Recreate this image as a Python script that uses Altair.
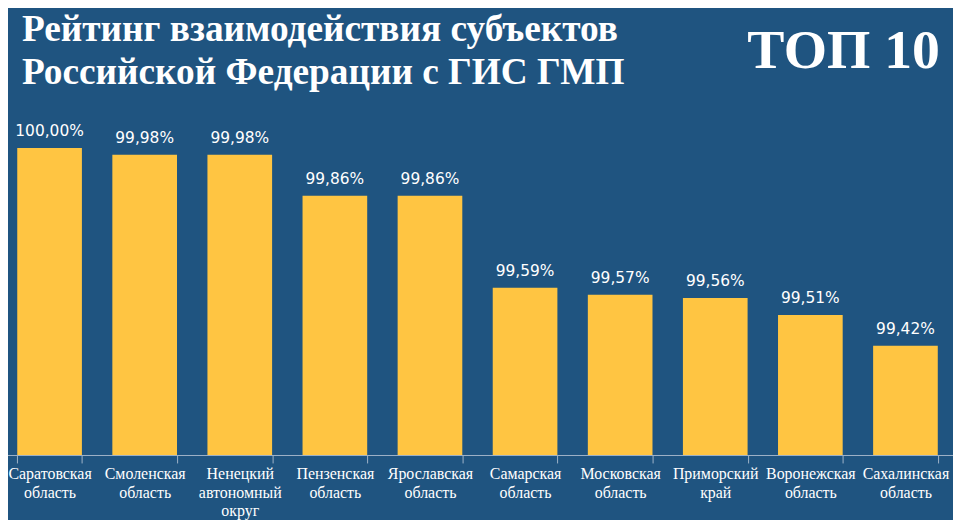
import pandas as pd
import altair as alt

# Rating values (percent) per region
regions = [
    "Саратовская область",
    "Смоленская область",
    "Ненецкий автономный округ",
    "Пензенская область",
    "Ярославская область",
    "Самарская область",
    "Московская область",
    "Приморский край",
    "Воронежская область",
    "Сахалинская область",
]
values = [100.00, 99.98, 99.98, 99.86, 99.86, 99.59, 99.57, 99.56, 99.51, 99.42]

title_lines = ["Рейтинг взаимодействия субъектов", "Российской Федерации с ГИС ГМП"]
badge = "ТОП 10"

df = pd.DataFrame({"region": regions, "value": values})

bg = "#1f5480"
bar_color = "#ffc542"
line_color = "#9fb3c8"

base = alt.Chart(df).encode(
    x=alt.X("region:N", sort=None, title=None,
            scale=alt.Scale(paddingInner=0.32, paddingOuter=0.16),
            axis=alt.Axis(labelAngle=0,
                          labelExpr="split(datum.label, ' ')",
                          labelFont="Liberation Serif",
                          labelFontSize=16,
                          labelColor="white",
                          labelLineHeight=18.5,
                          labelBaseline="alphabetic",
                          labelPadding=16,
                          labelOverlap=False,
                          labelLimit=0,
                          tickBand="extent",
                          tickSize=8,
                          tickColor=line_color,
                          domainColor=line_color)),
    y=alt.Y("value:Q", axis=None,
            scale=alt.Scale(domain=[99.1, 100.1], zero=False)),
)

bars = base.mark_bar(color=bar_color, clip=True)

value_labels = base.transform_calculate(
    label="replace(format(datum.value, '.2f'), '.', ',') + '%'"
).mark_text(
    dy=-12, baseline="alphabetic", font="DejaVu Sans", fontSize=15.5, color="white"
).encode(text="label:N")

heading = alt.Chart(alt.Data(values=[{}])).mark_text(
    align="left", baseline="alphabetic", font="Liberation Serif",
    fontSize=37.5, fontWeight="bold", color="white", lineHeight=43
).encode(x=alt.value(20), y=alt.value(-73), text=alt.value(title_lines))

badge_text = alt.Chart(alt.Data(values=[{}])).mark_text(
    align="center", baseline="alphabetic", font="Liberation Serif",
    fontSize=56, fontWeight="bold", color="white"
).encode(x=alt.value(846), y=alt.value(-46), text=alt.value(badge))

chart = (bars + value_labels + heading + badge_text).properties(
    width=956,
    height=343,
    autosize=alt.AutoSizeParams(type="none"),
    padding={"left": -6, "right": 0, "top": 105, "bottom": 64},
    background=bg,
).configure_view(stroke=None)

chart.save("out.html", embed_options={"renderer": "svg", "actions": False})
